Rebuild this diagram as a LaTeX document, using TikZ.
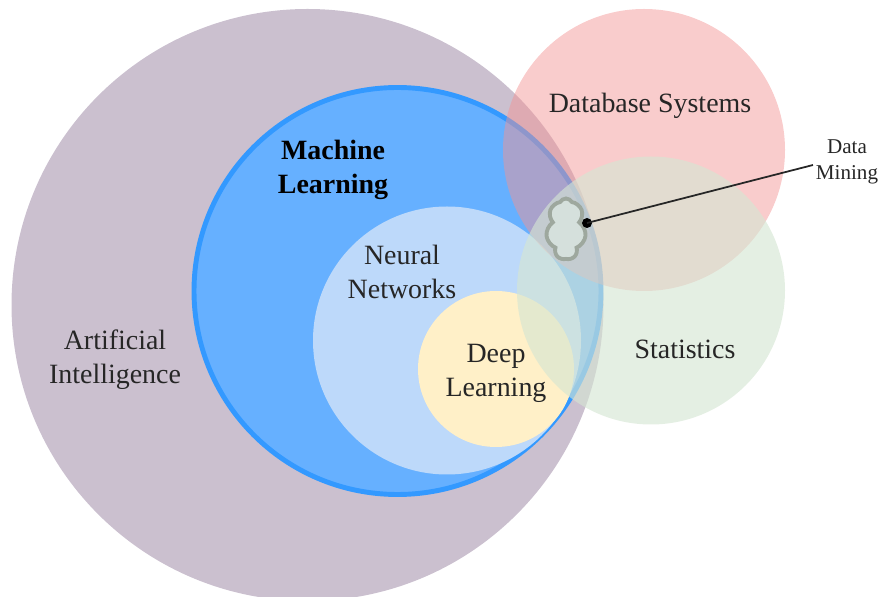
\documentclass[tikz,border=0pt]{standalone}
\usepackage{fontspec}
\setmainfont{Liberation Serif}
\usetikzlibrary{shapes.symbols}
\definecolor{aicol}{RGB}{203,192,207}
\definecolor{mlcol}{RGB}{102,176,255}
\definecolor{mledge}{RGB}{51,153,255}
\definecolor{nncol}{RGB}{189,217,250}
\definecolor{dlcol}{RGB}{255,240,200}
\definecolor{dbcol}{RGB}{243,148,148}
\definecolor{stcol}{RGB}{213,230,211}
\definecolor{cloudcol}{RGB}{213,224,220}
\definecolor{cloudedge}{RGB}{158,168,158}
\tikzset{
  lbl/.style={align=center, font=\fontsize{15.9}{19.4}\selectfont, text=black!85},
  smalllbl/.style={align=center, font=\fontsize{12}{14.8}\selectfont, text=black!85, inner sep=0pt}
}
\begin{document}
\begin{tikzpicture}[x=0.02cm,y=-0.02cm]
\useasboundingbox (0,0) rectangle (879,597);
\fill [aicol] (307.5,305) circle (296);
\draw [mledge, fill=mlcol, line width=2.8pt] (397.5,291) circle (203.5);
\fill [nncol] (447,340.5) circle (134);
\fill [dlcol] (496,369) circle (78);
\fill [dbcol, fill opacity=0.48] (644,150) circle (141);
\fill [stcol, fill opacity=0.63] (651,290.5) circle (134);
\node (cloud) at (566,229) [cloud, cloud puffs=7, cloud puff arc=125, draw=cloudedge, fill=cloudcol, line width=2.2pt, inner sep=0pt, minimum width=0.8cm, minimum height=1.22cm, shape aspect=0.65] {};
\node (ai) at (115,359.5) [lbl] {Artificial\\Intelligence};
\node (ml) at (333,170) [lbl, text=black] {\textbf{Machine}\\\textbf{Learning}};
\node (nn) at (402,272) [lbl] {Neural\\Networks};
\node (dl) at (496,373) [lbl] {Deep\\Learning};
\node (db) at (650,106) [lbl] {Database Systems};
\node (st) at (685,349) [lbl] {Statistics};
\node (dm) at (847,162) [smalllbl] {Data\\Mining};
\node (dot) at (587,223) [circle, fill=black, inner sep=0pt, minimum size=0.2cm] {};
\coordinate (dmend) at (813,165);
\draw [line width=1pt, black!85] (dot.center) -- (dmend);
\end{tikzpicture}
\end{document}
